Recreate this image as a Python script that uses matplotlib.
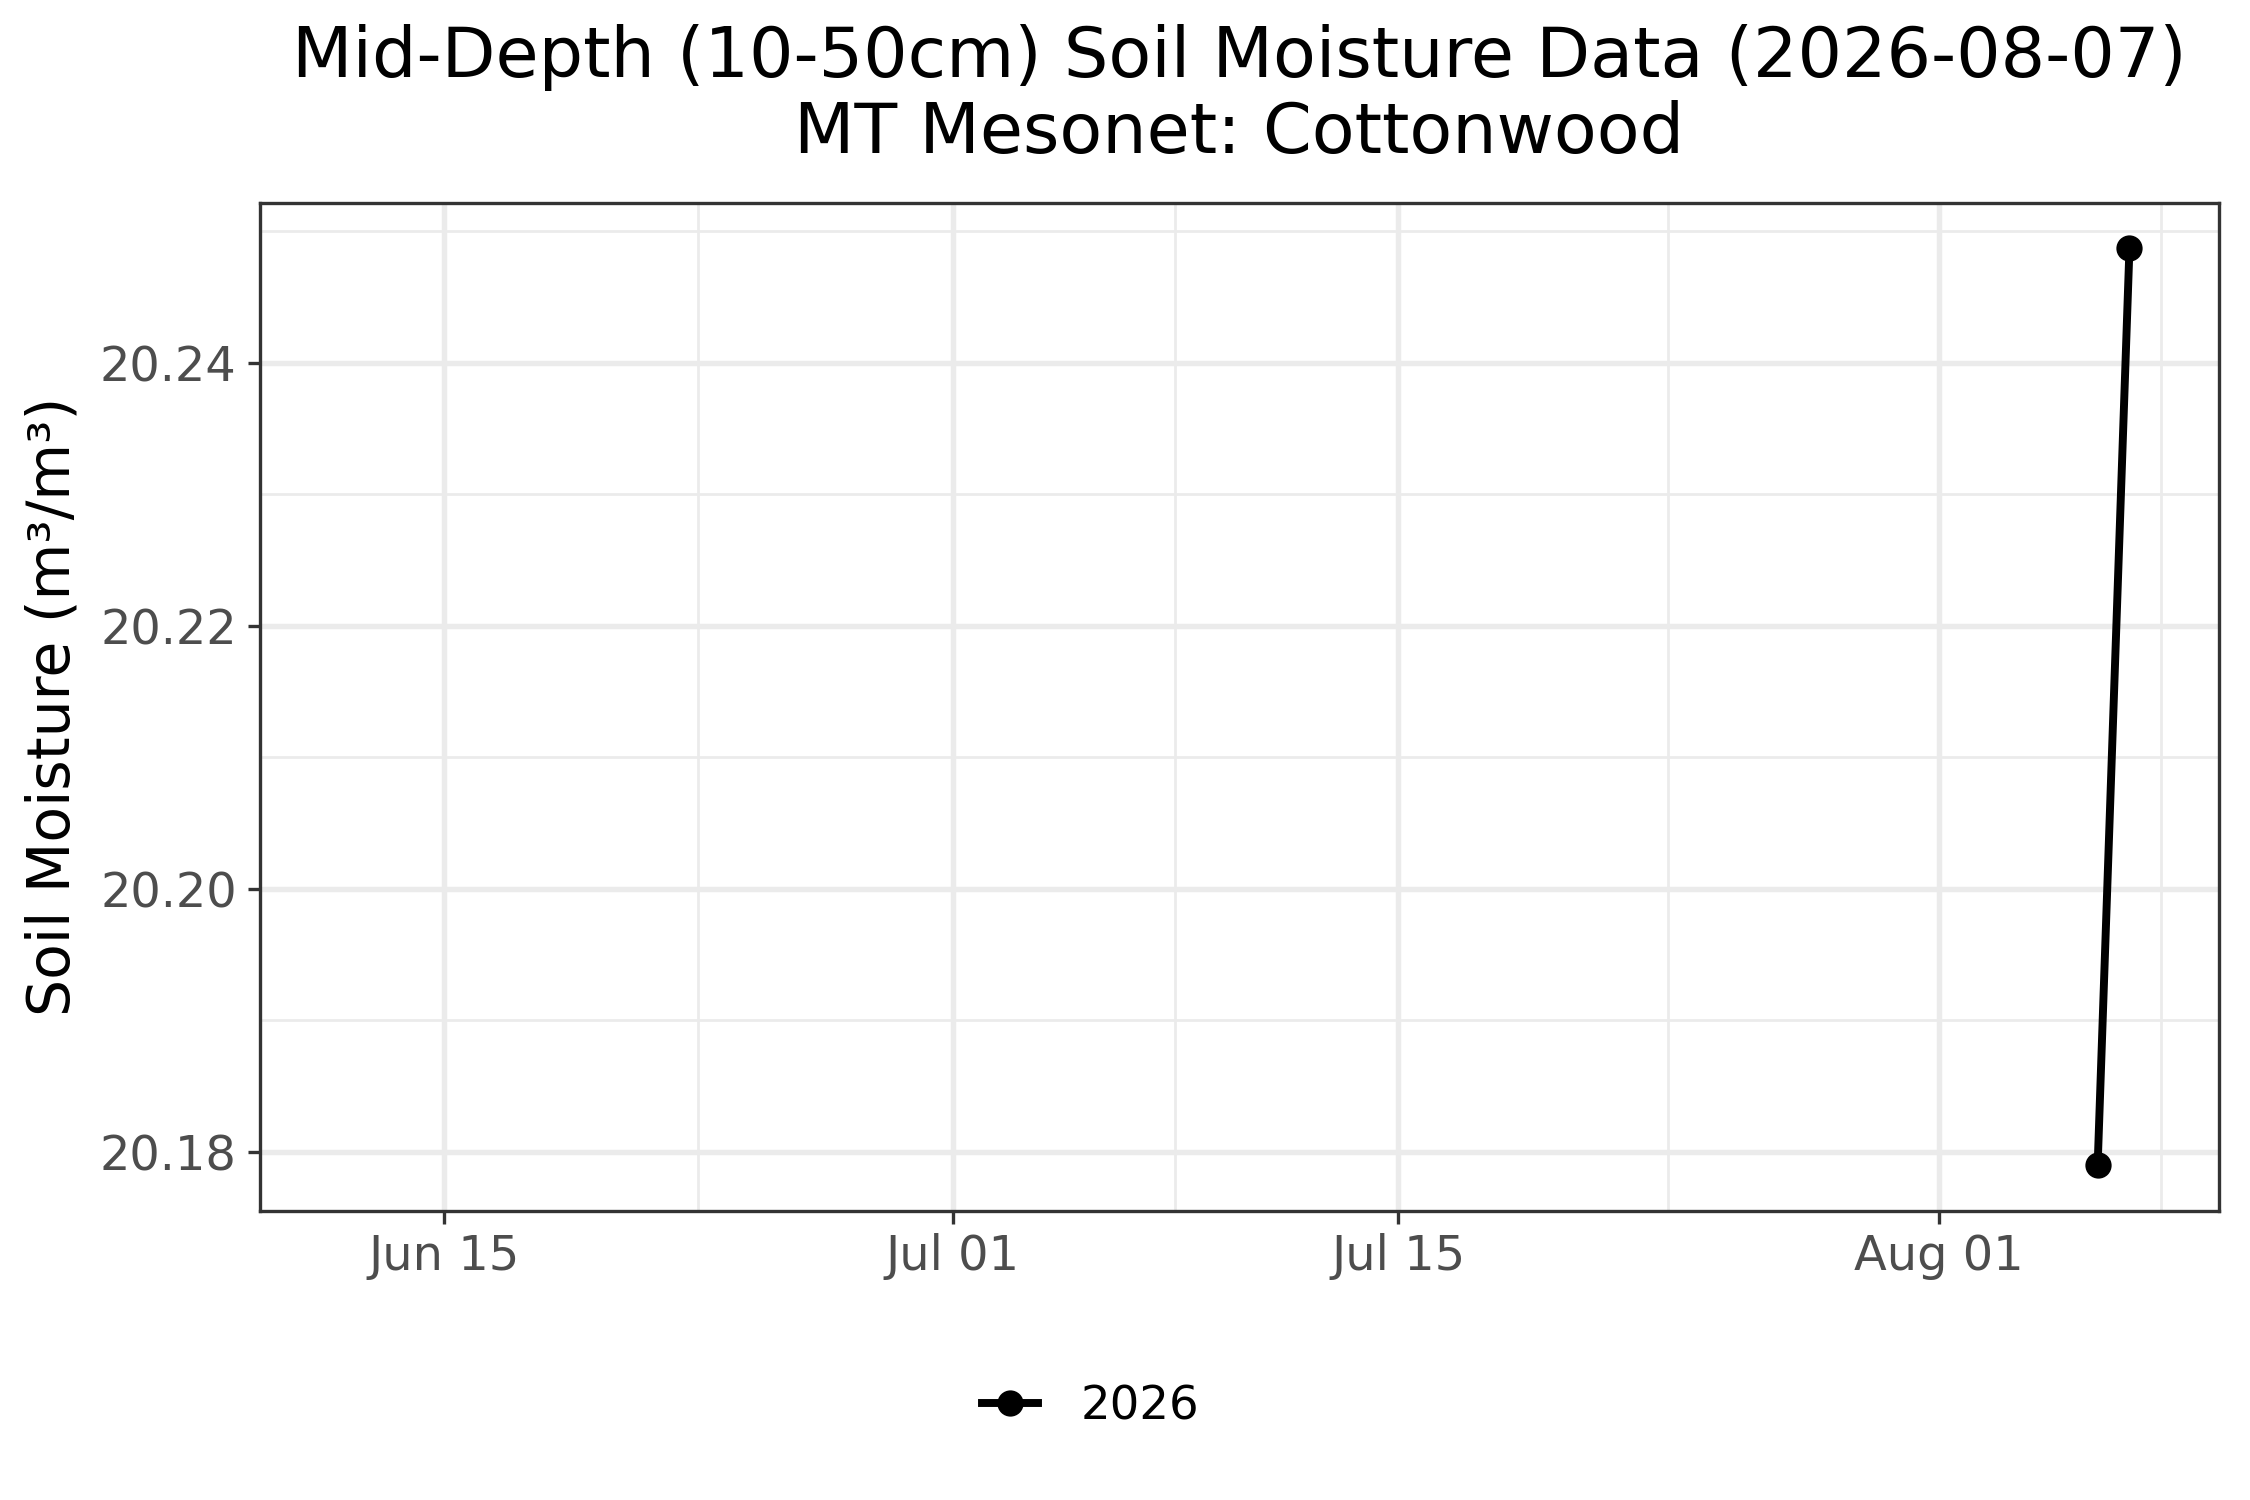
import matplotlib
matplotlib.use("Agg")
import matplotlib.pyplot as plt
import matplotlib.dates as mdates
from matplotlib.lines import Line2D
import numpy as np
import datetime as dt

# ---- data ----
dates = ["2026-08-06", "2026-08-07"]
moisture = [20.1790, 20.2487]
series_label = "2026"
x_range = ["2026-06-12", "2026-08-07"]
x_major = ["2026-06-15", "2026-07-01", "2026-07-15", "2026-08-01", "2026-08-15"]
x_tick_labels = ["Jun 15", "Jul 01", "Jul 15", "Aug 01"]
y_major = [20.18, 20.20, 20.22, 20.24]
y_minor = [20.17, 20.19, 20.21, 20.23, 20.25]
title_lines = ["Mid-Depth (10-50cm) Soil Moisture Data (2026-08-07)",
               "MT Mesonet: Cottonwood"]
y_label = "Soil Moisture (m³/m³)"

plt.rcParams['font.family'] = ['DejaVu Sans']

L, R, B, T = 0.1154, 0.986, 0.193, 0.865
fig = plt.figure(figsize=(7.5, 5), dpi=300)
ax = fig.add_axes([L, B, R - L, T - B])

xd = [mdates.date2num(dt.date.fromisoformat(d)) for d in dates]
ax.plot(xd, moisture, color="black", lw=1.9, marker="o", ms=5.3, zorder=3,
        solid_capstyle="butt")

majors = [mdates.date2num(dt.date.fromisoformat(d)) for d in x_major]
minors = [(a + b) / 2 for a, b in zip(majors[:-1], majors[1:])]
ax.set_xticks(majors[:len(x_tick_labels)])
ax.set_xticklabels(x_tick_labels)
ax.set_xticks(minors, minor=True)
ax.set_yticks(y_major)
ax.set_yticklabels([f"{v:.2f}" for v in y_major])
ax.set_yticks(y_minor, minor=True)

# limits with ggplot-like 5% expansion (set after ticks)
x0 = mdates.date2num(dt.date.fromisoformat(x_range[0]))
x1 = mdates.date2num(dt.date.fromisoformat(x_range[1]))
dx = x1 - x0
ax.set_xlim(x0 - 0.05 * dx, x1 + 0.05 * dx)
y0, y1 = min(moisture), max(moisture)
dy = y1 - y0
ax.set_ylim(y0 - 0.05 * dy, y1 + 0.05 * dy)

ax.grid(True, which="major", color="#EBEBEB", lw=1.3, zorder=0)
ax.grid(True, which="minor", color="#EBEBEB", lw=0.65, zorder=0)
ax.set_axisbelow(True)

for s in ax.spines.values():
    s.set_color("#333333")
    s.set_linewidth(0.8)

ax.tick_params(axis="both", which="major", length=3.0, width=0.8,
               color="#333333", labelcolor="#4D4D4D", labelsize=11.5, pad=2.5)
ax.tick_params(axis="both", which="minor", length=0)

fig.text(0.0236, 0.529, y_label, rotation=90, ha="center", va="center",
         fontsize=14, color="black")

cx = (L + R) / 2
fig.text(cx, 0.9617, title_lines[0], ha="center", va="center", fontsize=16.8)
fig.text(cx, 0.911, title_lines[1], ha="center", va="center", fontsize=16.8)

handle = Line2D([], [], color="black", lw=1.9, marker="o", ms=5.3)
fig.legend([handle], [series_label], loc="center", bbox_to_anchor=(0.4847, 0.0622),
           frameon=False, fontsize=11.2, handlelength=1.2, handletextpad=0.9)

fig.savefig("out.png", dpi=300, facecolor="white")
